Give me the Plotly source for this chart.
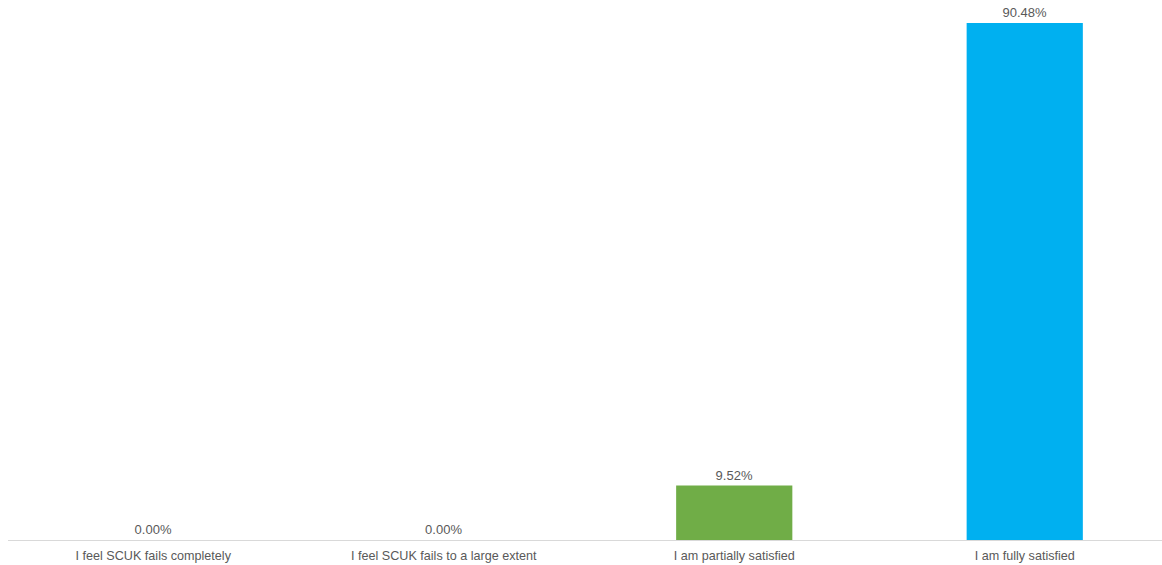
import plotly.graph_objects as go

categories = [
    "I feel SCUK fails completely",
    "I feel SCUK fails to a large extent",
    "I am partially satisfied",
    "I am fully satisfied",
]
values = [0.00, 0.00, 9.52, 90.48]
colors = ["#4472C4", "#ED7D31", "#70AD47", "#00B0F0"]
labels = [f"{v:.2f}%" for v in values]

fig = go.Figure(
    go.Bar(
        x=categories,
        y=values,
        marker=dict(color=colors, line=dict(width=0)),
        text=labels,
        textposition="outside",
        cliponaxis=False,
        textfont=dict(family="Liberation Sans, Arial, sans-serif", size=13, color="#595959"),
    )
)

fig.update_layout(
    width=1162,
    height=565,
    margin=dict(l=8, r=0, t=0, b=25),
    plot_bgcolor="white",
    paper_bgcolor="white",
    bargap=0.6,
    showlegend=False,
    font=dict(family="Liberation Sans, Arial, sans-serif", size=12, color="#595959"),
    xaxis=dict(
        range=[-0.5, 3.4725],
        showline=True,
        linecolor="#D9D9D9",
        linewidth=1,
        ticks="",
        ticklabelstandoff=4,
        showgrid=False,
        automargin=False,
        tickfont=dict(size=12.6, color="#595959"),
    ),
    yaxis=dict(
        range=[0, 94.5],
        visible=False,
        showgrid=False,
        zeroline=False,
    ),
)

fig.write_html("out.html")
